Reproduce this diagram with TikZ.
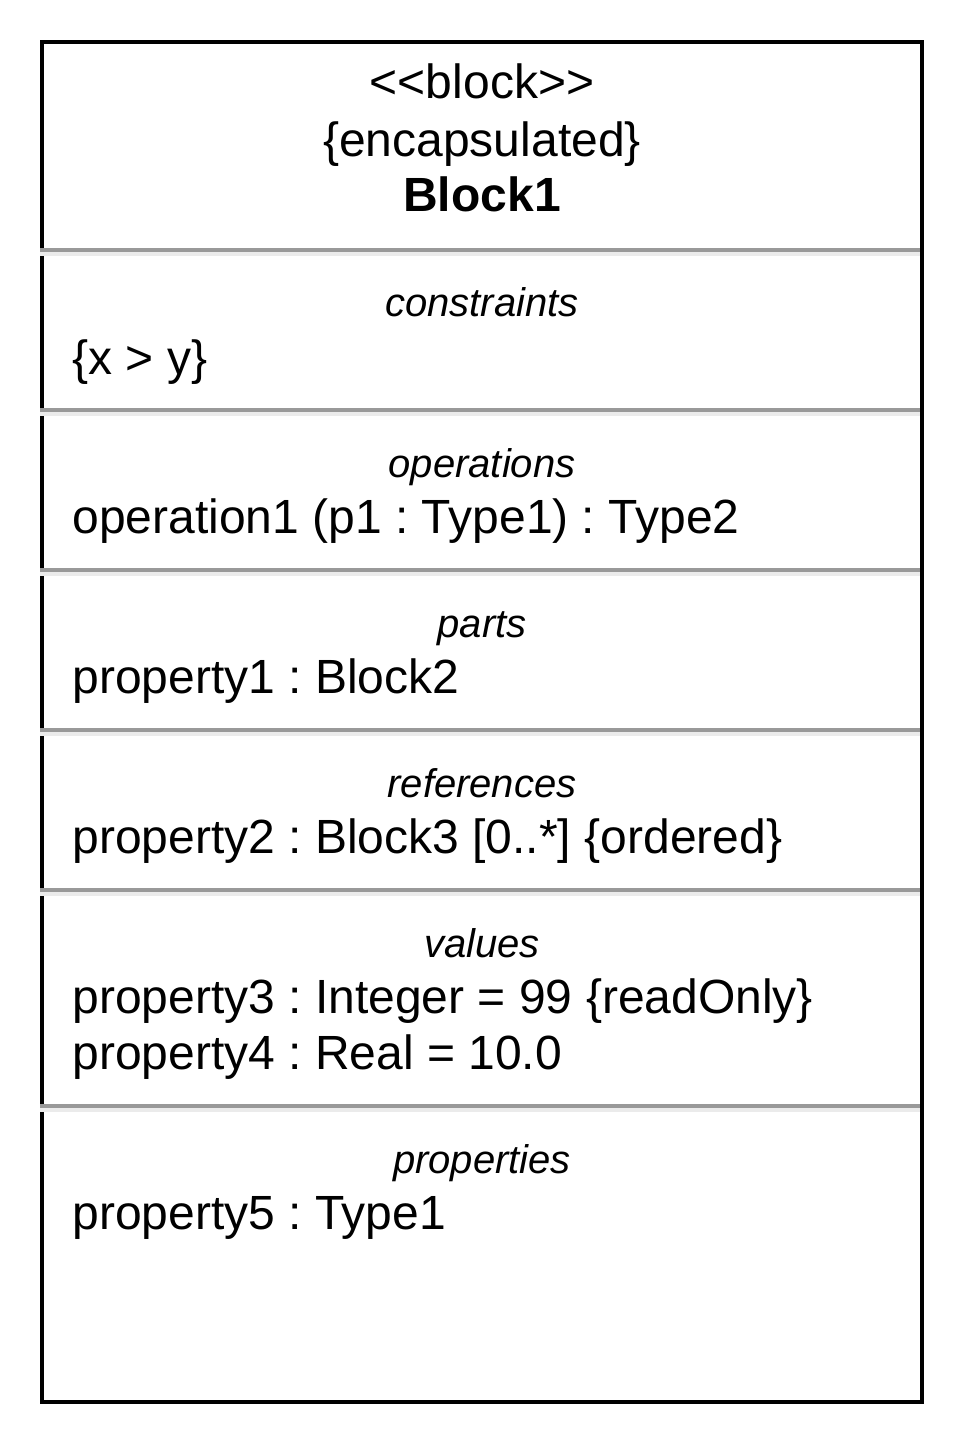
\documentclass[tikz,border=0pt]{standalone}
\usepackage{fontspec}
\setmainfont{Liberation Sans}
\frenchspacing
\tikzstyle{heading}=[anchor=base,inner sep=0pt,font=\fontsize{20pt}{24pt}\selectfont\itshape]
\tikzstyle{title}=[anchor=base,inner sep=0pt,font=\fontsize{24pt}{28pt}\selectfont]
\tikzstyle{entry}=[anchor=base west,inner sep=0pt,font=\fontsize{24pt}{28pt}\selectfont]
\tikzstyle{divider}=[draw=black!40,line width=2pt]
\tikzstyle{shade}=[draw=black!8,line width=2pt]
\begin{document}
\begin{tikzpicture}[x=0.5pt,y=-0.5pt]
  \useasboundingbox (0,0) rectangle (964,1444);
  \draw[line width=2pt] (42,42) rectangle (922,1402);
  % header
  \node[title] (stereo) at (482,99) {<\kern0pt<block>\kern0pt>};
  \node[title] (encap) at (482,157) {\{encapsulated\}};
  \node[title] (Block1) at (482,212) {\textbf{Block1}};
  % compartment lines
  \draw[divider] (40,250) -- (920,250);  \draw[shade] (40,254) -- (920,254);
  \draw[divider] (40,410) -- (920,410);  \draw[shade] (40,414) -- (920,414);
  \draw[divider] (40,570) -- (920,570);  \draw[shade] (40,574) -- (920,574);
  \draw[divider] (40,730) -- (920,730);  \draw[shade] (40,734) -- (920,734);
  \draw[divider] (40,890) -- (920,890);  \draw[shade] (40,894) -- (920,894);
  \draw[divider] (40,1106) -- (920,1106);  \draw[shade] (40,1110) -- (920,1110);
  % compartments
  \node[heading] (constraints) at (482,317) {constraints};
  \node[entry] (C1) at (72,374) {\{x > y\}};
  \node[heading] (operations) at (482,477) {operations};
  \node[entry] (O1) at (72,533) {operation1 (p1 : Type1) : Type2};
  \node[heading] (parts) at (482,637) {parts};
  \node[entry] (P1) at (72,693) {property1 : Block2};
  \node[heading] (references) at (482,797) {references};
  \node[entry] (R1) at (72,853) {property2 : Block3 [0..*] \{ordered\}};
  \node[heading] (values) at (482,957) {values};
  \node[entry] (V1) at (72,1013) {property3 : Integer = 99 \{readOnly\}};
  \node[entry] (V2) at (72,1069) {property4 : Real = 10.0};
  \node[heading] (properties) at (482,1173) {properties};
  \node[entry] (Q1) at (72,1229) {property5 : Type1};
\end{tikzpicture}
\end{document}
